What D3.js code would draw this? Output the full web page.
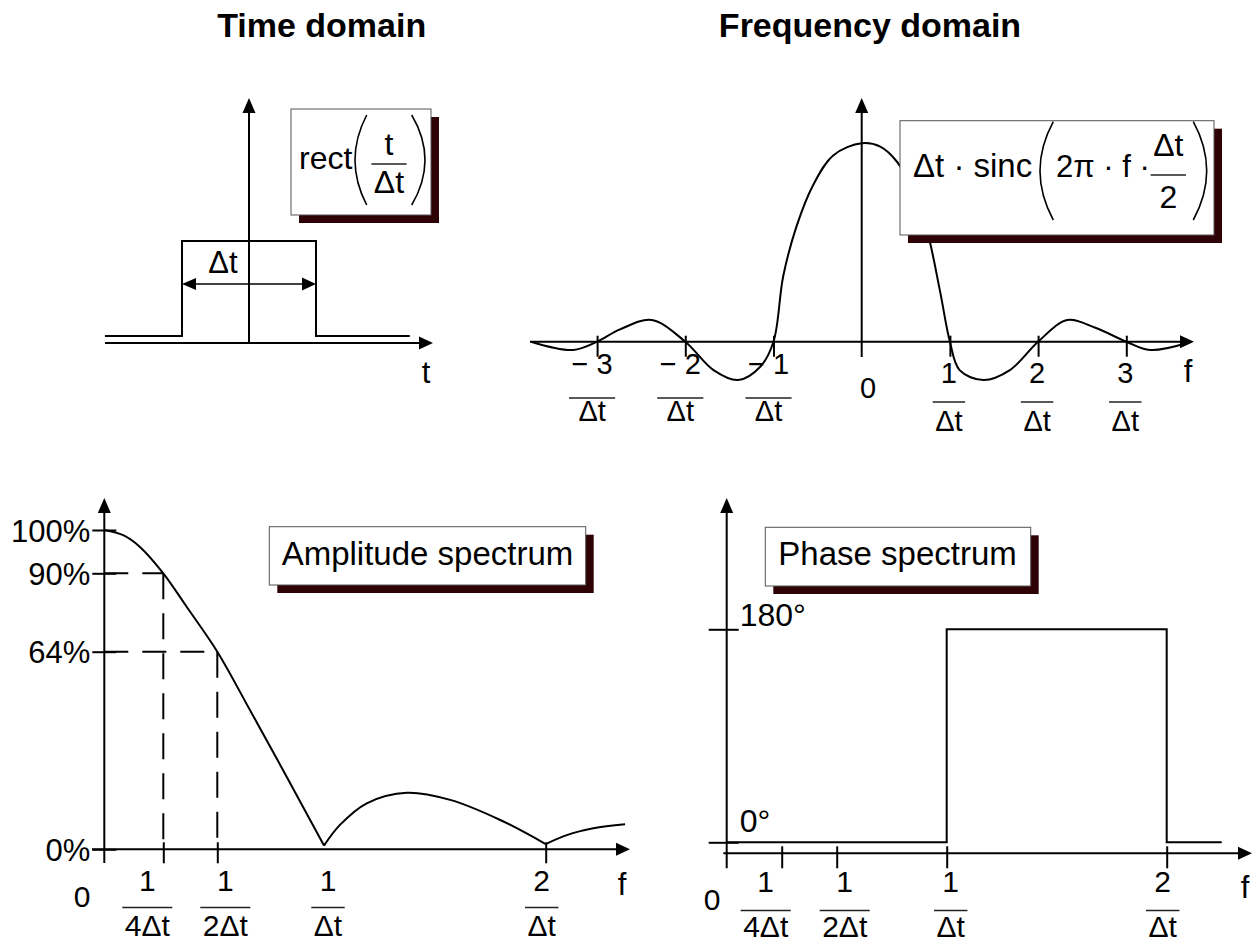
<!DOCTYPE html>
<html lang="en">
<head>
    <meta charset="UTF-8">
    <title>Rectangular pulse and its spectrum</title>
    <script type="text/javascript" src="https://cdn.jsdelivr.net/npm/d3@7"></script>
    <style>
        body { margin: 0; background: #fff; }
        text { font-family: "Liberation Sans", Arial, Helvetica, sans-serif; fill: #000; }
    </style>
</head>
<body>
<script type="text/javascript">
    var w = 1255;
    var h = 944;

    // pulse, t in units of Δt
    var pulseT = [-1.075, -0.5, -0.5, 0.5, 0.5, 1.2];
    var pulseV = [0, 0, 1, 1, 0, 0];

    // spectrum, f in units of 1/Δt, value relative to the peak
    var sincF = [-3.75, -3.27, -3, -2.74, -2.38, -2, -1.68, -1.4, -1.15, -1, -0.89, -0.74, -0.55, -0.32, 0,
                 0.21, 0.4, 0.55, 0.74, 0.89, 1, 1.11, 1.38, 1.68, 2, 2.33, 2.65, 3, 3.27, 3.68];
    var sincV = [0, -0.042, 0, 0.062, 0.109, 0, -0.143, -0.193, -0.126, 0, 0.33, 0.58, 0.79, 0.94, 1,
                 0.983, 0.907, 0.79, 0.56, 0.25, 0, -0.143, -0.193, -0.143, 0, 0.109, 0.07, 0, -0.042, -0.008];
    var freqTicks = [-3, -2, -1, 1, 2, 3];

    // amplitude spectrum in percent, one array pair per lobe
    var ampF1 = [0, 0.08, 0.151, 0.25, 0.358, 0.5, 0.653, 0.825, 1];
    var ampP1 = [100, 98.8, 96.1, 90, 78.9, 64, 45.1, 23.5, 1.2];
    var ampF2 = [1, 1.072, 1.193, 1.374, 1.569, 1.795, 2];
    var ampP2 = [1.2, 7.9, 14.9, 18.3, 16.0, 9.5, 1.7];
    var ampF3 = [2, 2.095, 2.215, 2.358];
    var ampP3 = [1.7, 4.6, 6.8, 8.1];
    var ampTicks = [0, 64, 90, 100];
    var ampReadF = [0.25, 0.5];
    var ampReadP = [90, 64];

    // phase spectrum in degrees
    var phaseF = [0, 1, 1, 2, 2, 2.25];
    var phaseD = [0, 0, 180, 180, 0, 0];
    var phaseTicks = [0, 180];

    // fraction tick labels shared by both lower panels
    var fracTicks = [0.25, 0.5, 1, 2];
    var fracNum = ["1", "1", "1", "2"];
    var fracDen = ["4\u0394t", "2\u0394t", "\u0394t", "\u0394t"];
    var fracShift = [-16, 8, 4, -4];

    var svg = d3.select("body")
        .append("svg")
        .attr("width", w)
        .attr("height", h);

    // scales (the lower-left one is piecewise, as the axis is only schematic)
    var xT = d3.scaleLinear().domain([-0.5, 0.5]).range([182, 316]);
    var yT = d3.scaleLinear().domain([0, 1]).range([336, 241]);
    var xF = d3.scaleLinear().domain([0, 1]).range([861.7, 949.9]);
    var yF = d3.scaleLinear().domain([0, 1]).range([341.7, 143.3]);
    var xA = d3.scaleLinear().domain([0, 0.25, 0.5, 1, 2]).range([104.3, 163.3, 217.3, 324, 545.7]);
    var yA = d3.scaleLinear().domain([0, 64, 90, 100]).range([849.3, 651.7, 573.3, 530]);
    var xP = d3.scaleLinear().domain([0, 2]).range([726.7, 1166.7]);
    var yP = d3.scaleLinear().domain([0, 180]).range([842.3, 629.3]);

    function line(x1, y1, x2, y2, sw) {
        return svg.append("line")
            .attr("x1", x1).attr("y1", y1)
            .attr("x2", x2).attr("y2", y2)
            .attr("stroke", "#000")
            .attr("stroke-width", sw || 2);
    }

    function arrow(x, y, dir) {
        var p;
        if (dir === "up") p = [[x, y], [x - 6.5, y + 15], [x + 6.5, y + 15]];
        else if (dir === "left") p = [[x, y], [x + 14, y - 6], [x + 14, y + 6]];
        else p = [[x, y], [x - 14, y - 6.5], [x - 14, y + 6.5]];
        svg.append("path").attr("d", "M" + p.join("L") + "Z").attr("fill", "#000");
    }

    function label(x, y, s, size, anchor) {
        return svg.append("text")
            .attr("x", x).attr("y", y)
            .attr("font-size", size)
            .attr("text-anchor", anchor || "start")
            .text(s);
    }

    function fraction(cx, yNum, yBar, yDen, num, den, size) {
        var a = label(cx, yNum, num, size, "middle");
        var b = label(cx, yDen, den, size, "middle");
        var len = Math.max(a.node().getComputedTextLength(), b.node().getComputedTextLength()) + 5;
        svg.append("line")
            .attr("x1", cx - len / 2).attr("x2", cx + len / 2)
            .attr("y1", yBar).attr("y2", yBar)
            .attr("stroke", "#222")
            .attr("stroke-width", 1.3);
    }

    function box(x, y, bw, bh) {
        svg.append("rect")
            .attr("x", x + 8).attr("y", y + 8)
            .attr("width", bw).attr("height", bh)
            .attr("fill", "#2e0204");
        svg.append("rect")
            .attr("x", x).attr("y", y)
            .attr("width", bw).attr("height", bh)
            .attr("fill", "#fff")
            .attr("stroke", "#555")
            .attr("stroke-width", 1);
    }

    // tall thin bracket: xEnd at the tips, xMid at the bulge
    function paren(xEnd, xMid, y0, y1) {
        svg.append("path")
            .attr("d", "M" + xEnd + "," + y0 + "Q" + (2 * xMid - xEnd) + "," + ((y0 + y1) / 2) + " " + xEnd + "," + y1)
            .attr("fill", "none")
            .attr("stroke", "#000")
            .attr("stroke-width", 1.6);
    }

    // titles
    svg.append("text").attr("x", 321.7).attr("y", 37).attr("text-anchor", "middle")
        .attr("font-size", 34).attr("font-weight", "bold").text("Time domain");
    svg.append("text").attr("x", 870).attr("y", 37).attr("text-anchor", "middle")
        .attr("font-size", 34).attr("font-weight", "bold").text("Frequency domain");

    // ---- time domain ----
    line(105, 343, 428, 343);
    arrow(433, 343, "right");
    line(xT(0), 344, xT(0), 104);
    arrow(xT(0), 98, "up");

    var pulseLine = d3.line()
        .x(function (d) { return xT(pulseT[d]); })
        .y(function (d) { return yT(pulseV[d]); });
    svg.append("path")
        .attr("d", pulseLine(d3.range(pulseT.length)))
        .attr("fill", "none")
        .attr("stroke", "#000")
        .attr("stroke-width", 2);

    // width marker
    line(xT(-0.5) + 10, 284, xT(0.5) - 10, 284, 1.5);
    arrow(xT(-0.5), 284, "left");
    arrow(xT(0.5), 284, "right");
    label(223, 273, "\u0394t", 31, "middle");
    label(426, 383, "t", 31, "middle");

    box(291, 109, 140, 106);
    label(299, 169, "rect", 32);
    paren(366.7, 355, 115, 205);
    paren(411.7, 425, 115, 205);
    fraction(389, 155, 164, 193, "t", "\u0394t", 32);

    // ---- frequency domain ----
    var sincLine = d3.line()
        .x(function (d) { return xF(d[0]); })
        .y(function (d) { return yF(d[1]); })
        .curve(d3.curveCatmullRom.alpha(0.5));
    svg.append("path")
        .attr("d", sincLine(d3.zip(sincF, sincV)))
        .attr("fill", "none")
        .attr("stroke", "#000")
        .attr("stroke-width", 2);

    line(530, yF(0), 1188, yF(0));
    arrow(1194, yF(0), "right");
    line(xF(0), 357, xF(0), 104);
    arrow(xF(0), 98, "up");

    svg.append("g")
        .attr("transform", "translate(0," + yF(0) + ")")
        .call(d3.axisBottom(xF).tickValues(freqTicks).tickSize(15).tickFormat(""))
        .call(function (g) {
            g.select(".domain").remove();
            g.selectAll(".tick line").attr("y1", -6).attr("stroke-width", 2);
        });

    freqTicks.forEach(function (v) {
        var neg = v < 0;
        var num = neg ? "\u2212 " + (-v) : String(v);
        if (neg) fraction(xF(v) - 5, 374, 398, 421, num, "\u0394t", 29);
        else fraction(xF(v) - 1, 383, 402, 431, num, "\u0394t", 29);
    });
    label(868, 398, "0", 29, "middle");
    label(1188, 382, "f", 31, "middle");

    box(900, 120.7, 314, 114.3);
    label(913, 177, "\u0394t \u00B7 sinc", 33);
    paren(1053.3, 1040, 121.7, 220);
    label(1056, 177, "2\u03C0 \u00B7 f \u00B7", 31);
    fraction(1168.3, 156, 175, 208, "\u0394t", "2", 32);
    paren(1193.3, 1206.7, 121.7, 220);

    // ---- amplitude spectrum ----
    var ampLine = d3.line()
        .x(function (d) { return xA(d[0]); })
        .y(function (d) { return yA(d[1]); })
        .curve(d3.curveCatmullRom.alpha(0.5));
    [[ampF1, ampP1], [ampF2, ampP2], [ampF3, ampP3]].forEach(function (lobe) {
        svg.append("path")
            .attr("d", ampLine(d3.zip(lobe[0], lobe[1])))
            .attr("fill", "none")
            .attr("stroke", "#000")
            .attr("stroke-width", 2);
    });

    // dashed read-off lines
    ampReadF.forEach(function (f, i) {
        line(xA(0), yA(ampReadP[i]), xA(f), yA(ampReadP[i])).attr("stroke-dasharray", "24,14");
        line(xA(f), yA(ampReadP[i]), xA(f), yA(0)).attr("stroke-dasharray", "26,14");
    });

    line(92, yA(0), 624, yA(0));
    arrow(630, yA(0), "right");
    line(xA(0), 863, xA(0), 504);
    arrow(xA(0), 498, "up");

    svg.append("g")
        .attr("transform", "translate(" + xA(0) + ",0)")
        .call(d3.axisLeft(yA).tickValues(ampTicks).tickSize(12).tickPadding(2)
            .tickFormat(function (d) { return d + "%"; }))
        .call(function (g) {
            g.select(".domain").remove();
            g.selectAll(".tick line").attr("x2", -12).attr("x1", 12).attr("stroke-width", 2);
            g.selectAll(".tick text").attr("font-size", 31).attr("font-family", null)
                .attr("dy", "0.36em").attr("fill", "#000");
        });

    svg.append("g")
        .attr("transform", "translate(0," + yA(0) + ")")
        .call(d3.axisBottom(xA).tickValues([0.25, 0.5, 2]).tickSize(14).tickFormat(""))
        .call(function (g) {
            g.select(".domain").remove();
            g.selectAll(".tick line").attr("y1", -7).attr("stroke-width", 2);
        });

    fracTicks.forEach(function (v, i) {
        fraction(xA(v) + fracShift[i], 891, 907.5, 936, fracNum[i], fracDen[i], 30);
    });
    label(82, 907, "0", 30, "middle");
    label(622, 895, "f", 31, "middle");

    box(269.3, 526.7, 316.4, 58.3);
    label(281.7, 565, "Amplitude spectrum", 33);

    // ---- phase spectrum ----
    var phaseLine = d3.line()
        .x(function (d) { return xP(phaseF[d]); })
        .y(function (d) { return yP(phaseD[d]); });
    svg.append("path")
        .attr("d", phaseLine(d3.range(phaseF.length)))
        .attr("fill", "none")
        .attr("stroke", "#000")
        .attr("stroke-width", 2);

    line(723.3, 853.3, 1246, 853.3);
    arrow(1252, 853.3, "right");
    line(xP(0), 868.3, xP(0), 504);
    arrow(xP(0), 498, "up");

    svg.append("g")
        .attr("transform", "translate(" + xP(0) + ",0)")
        .call(d3.axisLeft(yP).tickValues(phaseTicks).tickSize(18).tickFormat(""))
        .call(function (g) {
            g.select(".domain").remove();
            g.selectAll(".tick line").attr("x1", 12).attr("stroke-width", 2);
        });
    label(xP(0) + 13, yP(180) - 3, "180\u00B0", 32);
    label(xP(0) + 13, yP(0) - 10.5, "0\u00B0", 32);

    svg.append("g")
        .attr("transform", "translate(0,853.3)")
        .call(d3.axisBottom(xP).tickValues(fracTicks).tickSize(15).tickFormat(""))
        .call(function (g) {
            g.select(".domain").remove();
            g.selectAll(".tick line").attr("y1", -7).attr("stroke-width", 2);
        });

    fracTicks.forEach(function (v, i) {
        fraction(xP(v) + fracShift[i], 892, 910.5, 937, fracNum[i], fracDen[i], 30);
    });
    label(712, 910, "0", 30, "middle");
    label(1245, 898, "f", 31, "middle");

    box(765.3, 527.3, 265.4, 58.7);
    label(778.3, 565, "Phase spectrum", 33);
</script>
</body>
</html>
